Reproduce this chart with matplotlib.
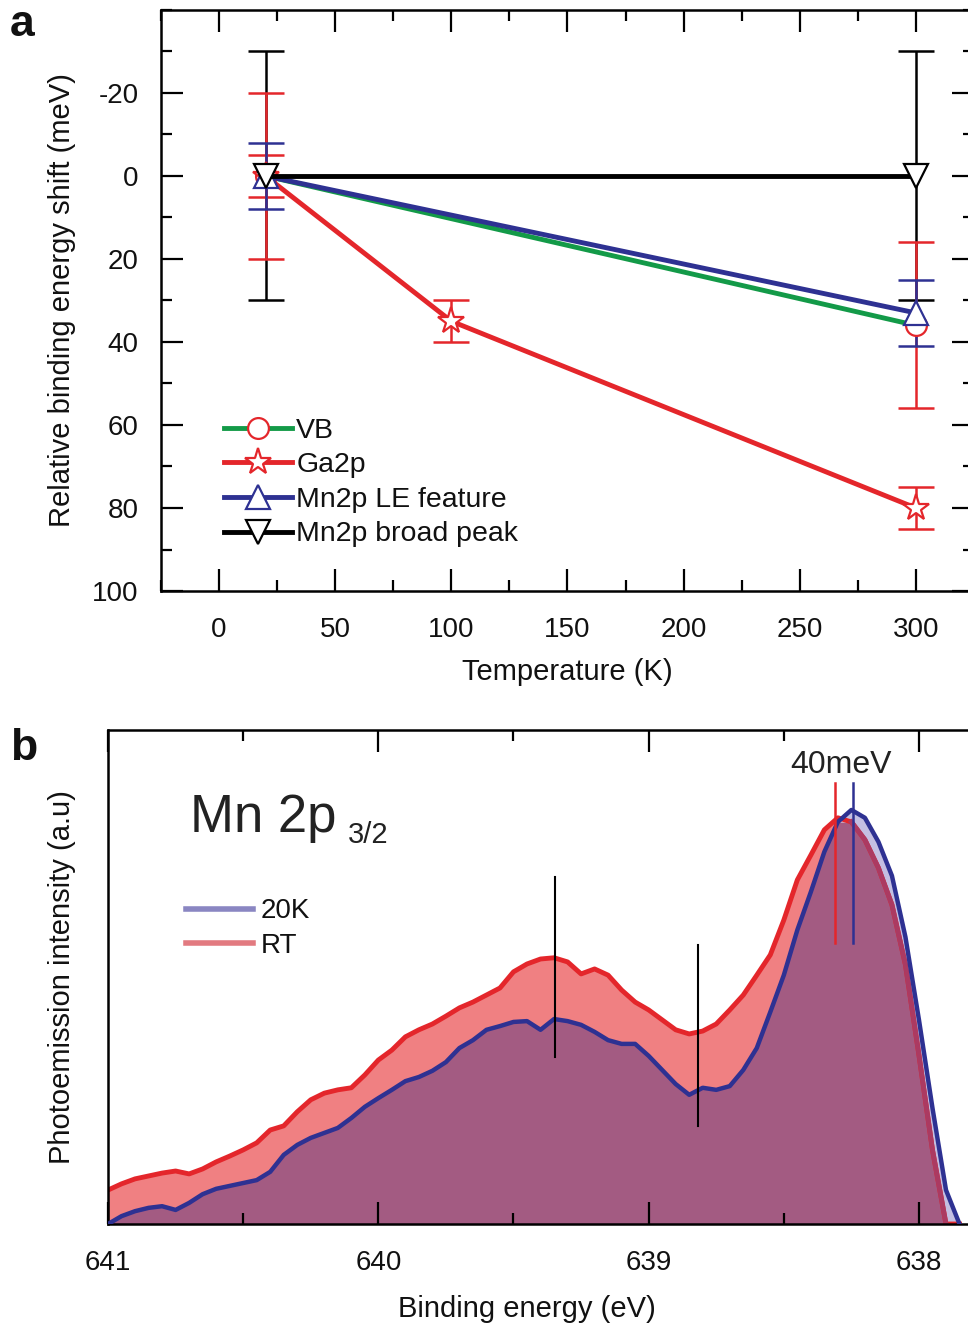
import matplotlib
matplotlib.use("Agg")
import matplotlib.pyplot as plt
from matplotlib.lines import Line2D
from matplotlib.ticker import MultipleLocator
import numpy as np

plt.rcParams['font.family'] = ['Liberation Sans', 'DejaVu Sans']
plt.rcParams['axes.unicode_minus'] = False

# ---- panel a data: relative binding energy shift (meV) vs temperature (K)
temp_vb = [20, 300]
shift_vb = [0, 36]
err_vb = [20, 20]

temp_ga = [20, 100, 300]
shift_ga = [0, 35, 80]
err_ga = [5, 5, 5]

temp_le = [20, 300]
shift_le = [0, 33]
err_le = [8, 8]

temp_broad = [20, 300]
shift_broad = [0, 0]
err_broad = [30, 30]

# ---- panel b data: Mn 2p3/2 photoemission spectra
energy = [641.00, 640.95, 640.90, 640.85, 640.80, 640.75, 640.70, 640.65,
          640.60, 640.55, 640.50, 640.45, 640.40, 640.35, 640.30, 640.25,
          640.20, 640.15, 640.10, 640.05, 640.00, 639.95, 639.90, 639.85,
          639.80, 639.75, 639.70, 639.65, 639.60, 639.55, 639.50, 639.45,
          639.40, 639.35, 639.30, 639.25, 639.20, 639.15, 639.10, 639.05,
          639.00, 638.95, 638.90, 638.85, 638.80, 638.75, 638.70, 638.65,
          638.60, 638.55, 638.50, 638.45, 638.40, 638.35, 638.30, 638.25,
          638.20, 638.15, 638.10, 638.05, 638.00, 637.95, 637.90, 637.85]
rt = [8.2, 9.7, 10.9, 11.6, 12.3, 12.8, 12.1, 13.3,
      15.0, 16.4, 17.9, 19.6, 22.7, 23.7, 27.1, 30.0,
      31.6, 32.4, 32.9, 36.0, 39.6, 42.0, 45.2, 46.9,
      48.3, 50.2, 52.2, 53.6, 55.3, 57.0, 60.9, 62.8,
      64.0, 64.3, 63.3, 60.4, 61.6, 60.1, 56.5, 53.6,
      51.7, 49.3, 46.9, 45.9, 46.6, 48.3, 51.7, 55.3,
      60.1, 65.0, 73.4, 83.1, 89.1, 95.2, 98.1, 97.1,
      92.8, 86.0, 77.1, 62.6, 40.8, 17.9, 0.0, 0.0]
k20 = [0.0, 1.9, 3.1, 3.9, 4.3, 3.4, 5.1, 7.2,
       8.5, 9.2, 9.9, 10.6, 12.6, 16.7, 19.1, 20.8,
       22.0, 23.2, 25.6, 28.3, 30.4, 32.4, 34.5, 35.5,
       37.0, 39.1, 42.5, 44.4, 46.9, 47.8, 48.8, 49.0,
       46.9, 49.5, 49.0, 48.1, 46.4, 44.4, 43.5, 43.5,
       40.6, 37.2, 33.8, 31.2, 32.9, 32.4, 33.3, 37.2,
       42.5, 51.2, 60.1, 71.0, 80.2, 89.9, 97.1, 100.0,
       98.1, 92.3, 84.1, 69.3, 49.3, 28.0, 8.2, 0.0]

markers_black = [(639.346, 40.3, 83.8), (638.817, 23.7, 67.4)]
peak_rt = 638.310
peak_20k = 638.244
peak_lines = (67.9, 106.5)

GREEN = '#139a48'
RED = '#e4262b'
BLUE = '#2e3192'
TXT = '#111111'

fig = plt.figure(figsize=(9.68, 13.29), dpi=100)

# ================= panel a =================
ax = fig.add_axes([0.1663, 0.5553, 0.8399, 0.4372])
ebkw = dict(fmt='none', elinewidth=1.8, capsize=13, capthick=1.8, zorder=2)
ax.errorbar(temp_broad, shift_broad, yerr=err_broad, ecolor='black', **ebkw)
ax.errorbar(temp_vb, shift_vb, yerr=err_vb, ecolor=RED, **ebkw)
ax.errorbar(temp_ga, shift_ga, yerr=err_ga, ecolor=RED, **ebkw)
ax.errorbar(temp_le, shift_le, yerr=err_le, ecolor=BLUE, **ebkw)

mk = dict(markerfacecolor='white', markeredgewidth=1.6, zorder=4)
ax.plot(temp_vb, shift_vb, '-', color=GREEN, lw=3.5, marker='o', ms=15,
        markeredgecolor=RED, label='VB', **mk)
ax.plot(temp_ga, shift_ga, '-', color=RED, lw=3.5, marker='*', ms=20,
        markeredgecolor=RED, label='Ga2p', **mk)
ax.plot(temp_le, shift_le, '-', color=BLUE, lw=3.5, marker='^', ms=17,
        markeredgecolor=BLUE, label='Mn2p LE feature', **mk)
ax.plot(temp_broad, shift_broad, '-', color='black', lw=3.5, marker='v', ms=17,
        markeredgecolor='black', label='Mn2p broad peak', **mk)

ax.set_xlim(-25, 325)
ax.set_ylim(100, -40)
ax.set_xticks([0, 50, 100, 150, 200, 250, 300])
ax.xaxis.set_minor_locator(MultipleLocator(25))
ax.set_yticks([-20, 0, 20, 40, 60, 80, 100])
ax.yaxis.set_minor_locator(MultipleLocator(10))
ax.tick_params(which='both', direction='in', top=True, right=True, width=1.6)
ax.tick_params(which='major', length=16)
ax.tick_params(which='minor', length=8)
ax.tick_params(axis='x', labelsize=20, pad=19, labelcolor=TXT)
ax.tick_params(axis='y', labelsize=20, pad=16, labelcolor=TXT)
for s in ax.spines.values():
    s.set_linewidth(1.8)
ax.set_xlabel('Temperature (K)', fontsize=21, color=TXT)
ax.xaxis.set_label_coords(0.5, -0.115)
ax.set_ylabel('Relative binding energy shift (meV)', fontsize=21, color=TXT)
ax.yaxis.set_label_coords(-0.1045, 0.5)
leg = ax.legend(loc='upper left', bbox_to_anchor=(0.077, 0.298), frameon=False,
                fontsize=20.5, handlelength=2.4, handletextpad=0.15, labelspacing=0.3,
                borderpad=0, borderaxespad=0)
for t in leg.get_texts():
    t.set_color(TXT)

fig.text(10 / 968, 1 - 36 / 1329, 'a', fontsize=32, fontweight='bold', color=TXT)

# ================= panel b =================
bx = fig.add_axes([0.1116, 0.0790, 0.8936, 0.3717])
E = np.array(energy)
r = np.array(rt)
b = np.array(k20)
SALMON = '#f08082'
MAUVE = '#a35b82'
LAVENDER = '#c4bfe2'
bx.fill_between(E, 0, np.minimum(r, b), color=MAUVE, lw=0, zorder=1)
bx.fill_between(E, b, r, where=r >= b, interpolate=True, color=SALMON, lw=0, zorder=1)
bx.fill_between(E, r, b, where=b > r, interpolate=True, color=LAVENDER, lw=0, zorder=1)
bx.plot(E, r, color=RED, lw=3.5, zorder=2)
bx.plot(E, np.where(r < b, r, np.nan), color='#ab3a62', lw=3.5, zorder=2.5)
bx.plot(E, b, color=BLUE, lw=3.2, zorder=3)

for x0, y0, y1 in markers_black:
    bx.plot([x0, x0], [y0, y1], color='black', lw=1.5, zorder=4)
bx.plot([peak_rt, peak_rt], peak_lines, color=RED, lw=1.8, zorder=4)
bx.plot([peak_20k, peak_20k], peak_lines, color=BLUE, lw=1.8, zorder=4)
bx.text(638.29, 110.9, '40meV', fontsize=23, ha='center', va='center', color='#222222')

bx.text(0.0948, 0.7935, 'Mn 2p', transform=bx.transAxes, fontsize=38,
        va='baseline', ha='left', color='#222222')
bx.text(0.2775, 0.772, '3/2', transform=bx.transAxes, fontsize=21,
        va='baseline', ha='left', color='#222222')

handles = [Line2D([0], [0], color='#8a86c2', lw=4),
           Line2D([0], [0], color='#e27a80', lw=4)]
leg2 = bx.legend(handles, ['20K', 'RT'], loc='upper left', bbox_to_anchor=(0.09, 0.659),
                 frameon=False, fontsize=20, handlelength=2.4, handletextpad=0.3,
                 labelspacing=0.31, borderpad=0, borderaxespad=0)
for t in leg2.get_texts():
    t.set_color(TXT)

bx.set_xlim(641.0, 637.8)
bx.set_ylim(0, 119.3)
bx.set_xticks([641, 640, 639, 638])
bx.xaxis.set_minor_locator(MultipleLocator(0.5))
bx.set_yticks([])
bx.tick_params(which='both', direction='in', top=True, width=1.6)
bx.tick_params(which='major', length=16)
bx.tick_params(which='minor', length=8)
bx.tick_params(axis='x', labelsize=20, pad=19, labelcolor=TXT)
for s in bx.spines.values():
    s.set_linewidth(1.8)
bx.set_xlabel('Binding energy (eV)', fontsize=21, color=TXT)
bx.xaxis.set_label_coords(0.484, -0.143)
bx.set_ylabel('Photoemission intensity (a.u)', fontsize=21, color=TXT)
bx.yaxis.set_label_coords(-0.037, 0.5)

fig.text(10 / 968, 1 - 760 / 1329, 'b', fontsize=32, fontweight='bold', color=TXT)

fig.savefig('out.png', dpi=100)
